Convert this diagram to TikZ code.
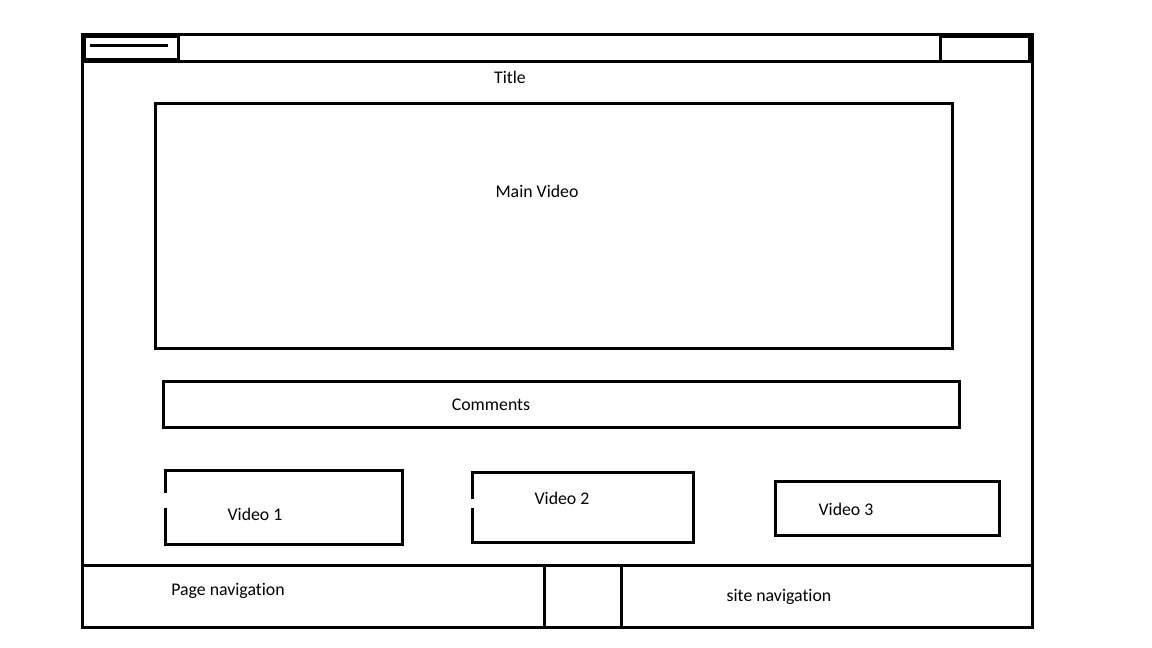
\documentclass[tikz,border=0pt]{standalone}
\usepackage{fontspec}
\setmainfont[Ligatures={NoCommon}]{Carlito}
\begin{document}
\begin{tikzpicture}[x=1pt,y=-1pt,
  frame/.style={draw=black,line width=3pt},
  lbl/.style={font=\fontsize{17.8}{20}\selectfont,text=black,inner sep=0pt}]
\useasboundingbox (0,0) rectangle (1152,648);
\fill[white] (0,0) rectangle (1152,648);
% outer window
\draw[frame] (82,34) rectangle (1032,627);
\draw[frame] (82,61) -- (1032,61);
\draw[frame] (84,36) rectangle (178,59);
\draw[frame] (90,45) -- (168,45);
\draw[frame] (940,36) rectangle (1029,61);
% footer
\draw[frame] (82,565) -- (1032,565);
\draw[frame] (544,565) -- (544,627);
\draw[frame] (621,565) -- (621,627);
% main video
\draw[frame] (155,103) rectangle (952,348);
% comments
\draw[frame] (163,381) rectangle (959,427);
% video boxes
\draw[frame] (165,493) -- (165,470) -- (402,470) -- (402,544) -- (165,544) -- (165,508);
\draw[frame] (472,499) -- (472,472) -- (693,472) -- (693,542) -- (472,542) -- (472,508);
\draw[frame] (775,481) rectangle (999,535);
% labels
\node[lbl] (title) at (510,77) {Title};
\node[lbl] (main) at (537,191) {Main Video};
\node[lbl] (comments) at (491,405) {Comments};
\node[lbl] (v1) at (255,514) {Video 1};
\node[lbl] (v2) at (562,498) {Video 2};
\node[lbl] (v3) at (846,509) {Video 3};
\node[lbl] (pnav) at (228,591) {Page navigation};
\node[lbl] (snav) at (779,597) {site navigation};
\end{tikzpicture}
\end{document}
